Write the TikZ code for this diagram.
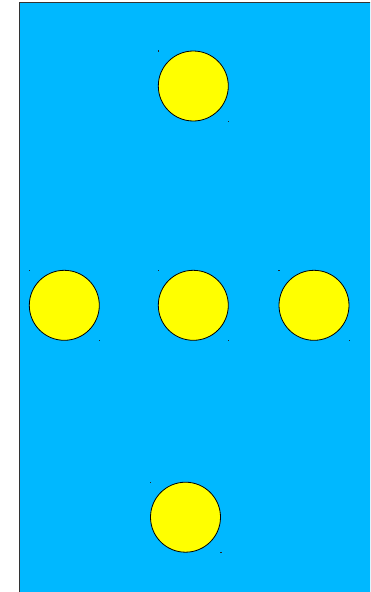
\documentclass[tikz,border=0pt]{standalone}
\definecolor{skyb}{RGB}{0,184,255}
\definecolor{sunny}{RGB}{255,255,0}
\tikzset{
  ball/.style={circle, draw=black, fill=sunny, line width=0.8pt, minimum size=70pt, inner sep=0pt},
  speck/.style={fill=black!85, inner sep=0pt, minimum size=1.2pt, rectangle}
}
\begin{document}
\begin{tikzpicture}[x=1pt,y=-1pt]
\useasboundingbox (0,0) rectangle (370,592);
\clip (0,0) rectangle (370,592);
\fill[white] (0,0) rectangle (370,592);
\draw[fill=skyb, draw=black!80, line width=1pt] (19.5,2.5) rectangle (380,600);
\node[ball] (top) at (193.3,86) {};
\node[ball] (left) at (64.3,305.3) {};
\node[ball] (mid) at (193.3,305.3) {};
\node[ball] (right) at (314,305.3) {};
\node[ball] (bot) at (185.5,517.2) {};
\foreach \n in {top,left,mid,right,bot}{
  \node[speck] at ([shift={(-35,-35)}]\n.center) {};
  \node[speck] at ([shift={(35.5,35.5)}]\n.center) {};
}
\end{tikzpicture}
\end{document}
